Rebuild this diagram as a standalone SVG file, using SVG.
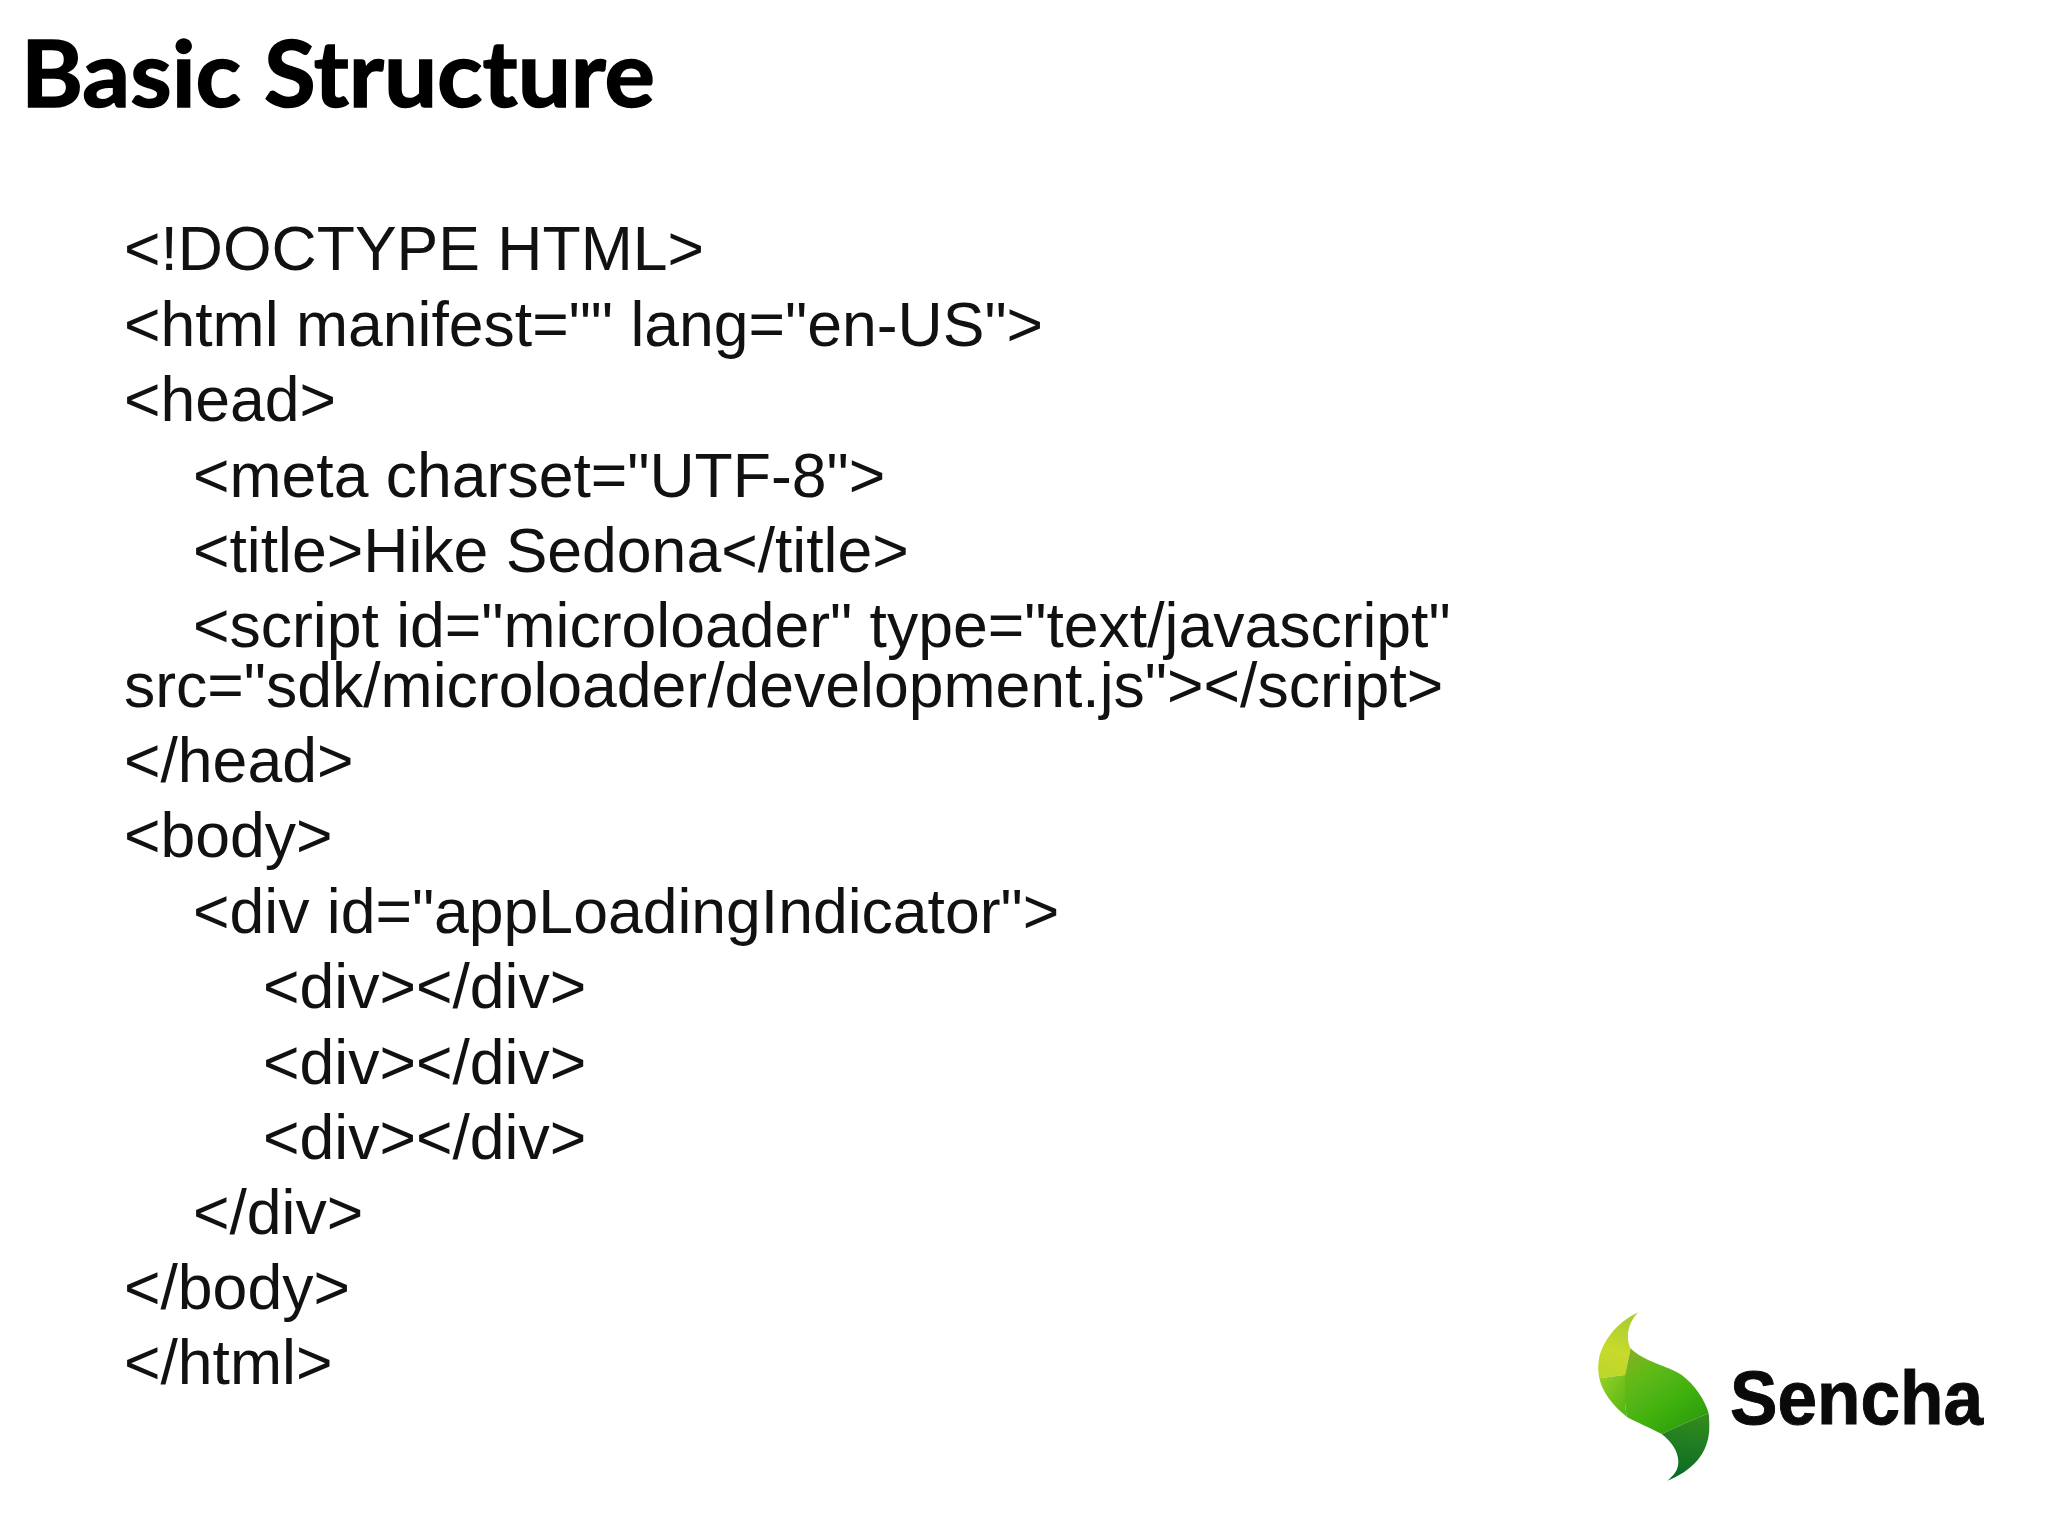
<svg xmlns="http://www.w3.org/2000/svg" width="2048" height="1536" viewBox="0 0 2048 1536">
<style>
.c{font-family:"Liberation Sans",Arial,sans-serif;font-size:62.5px;fill:#111}
.t{font-family:Lato,"Carlito","Noto Sans",sans-serif;font-weight:700;font-size:92px;fill:#000;stroke:#000;stroke-width:1.5}
.s{font-family:"Liberation Sans",Arial,sans-serif;font-weight:700;font-size:76px;fill:#0a0a0a;stroke:#0a0a0a;stroke-width:1}
</style>
<defs>
<linearGradient id="gy" x1="0.6" y1="0" x2="0.4" y2="1"><stop offset="0" stop-color="#a8cc30"/><stop offset="0.6" stop-color="#c8da2c"/><stop offset="1" stop-color="#bdd62a"/></linearGradient>
<linearGradient id="gl" x1="0" y1="0" x2="1" y2="1"><stop offset="0" stop-color="#98d028"/><stop offset="1" stop-color="#52b414"/></linearGradient>
<linearGradient id="gm" x1="0" y1="0" x2="0.7" y2="1"><stop offset="0" stop-color="#8aae28"/><stop offset="0.3" stop-color="#62ba16"/><stop offset="0.7" stop-color="#3fb010"/><stop offset="1" stop-color="#2c9c10"/></linearGradient>
<linearGradient id="gd" x1="0.6" y1="0" x2="0.5" y2="1"><stop offset="0" stop-color="#348c1c"/><stop offset="1" stop-color="#0a6a28"/></linearGradient>
<filter id="soft" x="-5%" y="-5%" width="110%" height="110%"><feGaussianBlur stdDeviation="0.6"/></filter>
</defs>
<rect width="2048" height="1536" fill="#fff"/>
<text id="title" class="t" x="21" y="107" textLength="634" lengthAdjust="spacingAndGlyphs">Basic Structure</text>
<g id="code">
<text class="c" x="124" y="270">&lt;!DOCTYPE HTML&gt;</text>
<text class="c" x="124" y="346">&lt;html manifest="" lang="en-US"&gt;</text>
<text class="c" x="124" y="421">&lt;head&gt;</text>
<text class="c" x="193" y="497">&lt;meta charset="UTF-8"&gt;</text>
<text class="c" x="193" y="572">&lt;title&gt;Hike Sedona&lt;/title&gt;</text>
<text class="c" x="193" y="647">&lt;script id="microloader" type="text/javascript"</text>
<text class="c" x="124" y="707">src="sdk/microloader/development.js"&gt;&lt;/script&gt;</text>
<text class="c" x="124" y="782">&lt;/head&gt;</text>
<text class="c" x="124" y="857">&lt;body&gt;</text>
<text class="c" x="193" y="933">&lt;div id="appLoadingIndicator"&gt;</text>
<text class="c" x="263" y="1008">&lt;div&gt;&lt;/div&gt;</text>
<text class="c" x="263" y="1084">&lt;div&gt;&lt;/div&gt;</text>
<text class="c" x="263" y="1159">&lt;div&gt;&lt;/div&gt;</text>
<text class="c" x="193" y="1234">&lt;/div&gt;</text>
<text class="c" x="124" y="1309">&lt;/body&gt;</text>
<text class="c" x="124" y="1384">&lt;/html&gt;</text>
</g>
<g id="logo">
<g transform="translate(1590 1300) scale(.33333)" filter="url(#soft)">
<path fill="url(#gy)" d="M145 37C90 62 45 110 28 170C23 195 24 216 28 235L105 225L122 145C108 118 110 72 145 37Z"/>
<path fill="url(#gl)" d="M28 235C36 275 70 320 110 350L105 310L105 225Z"/>
<path fill="url(#gm)" d="M122 145L105 225L105 310L110 350C140 368 180 382 215 402L285 370L356 340C345 300 315 255 275 225C235 198 160 185 122 145Z"/>
<path fill="url(#gd)" d="M215 402C245 425 265 455 265 485C265 510 252 525 232 542C300 515 360 465 358 375C358 362 357 350 356 340L285 370Z"/>
</g>
<text class="s" x="1730" y="1424" textLength="253" lengthAdjust="spacingAndGlyphs">Sencha</text>
</g>
</svg>
